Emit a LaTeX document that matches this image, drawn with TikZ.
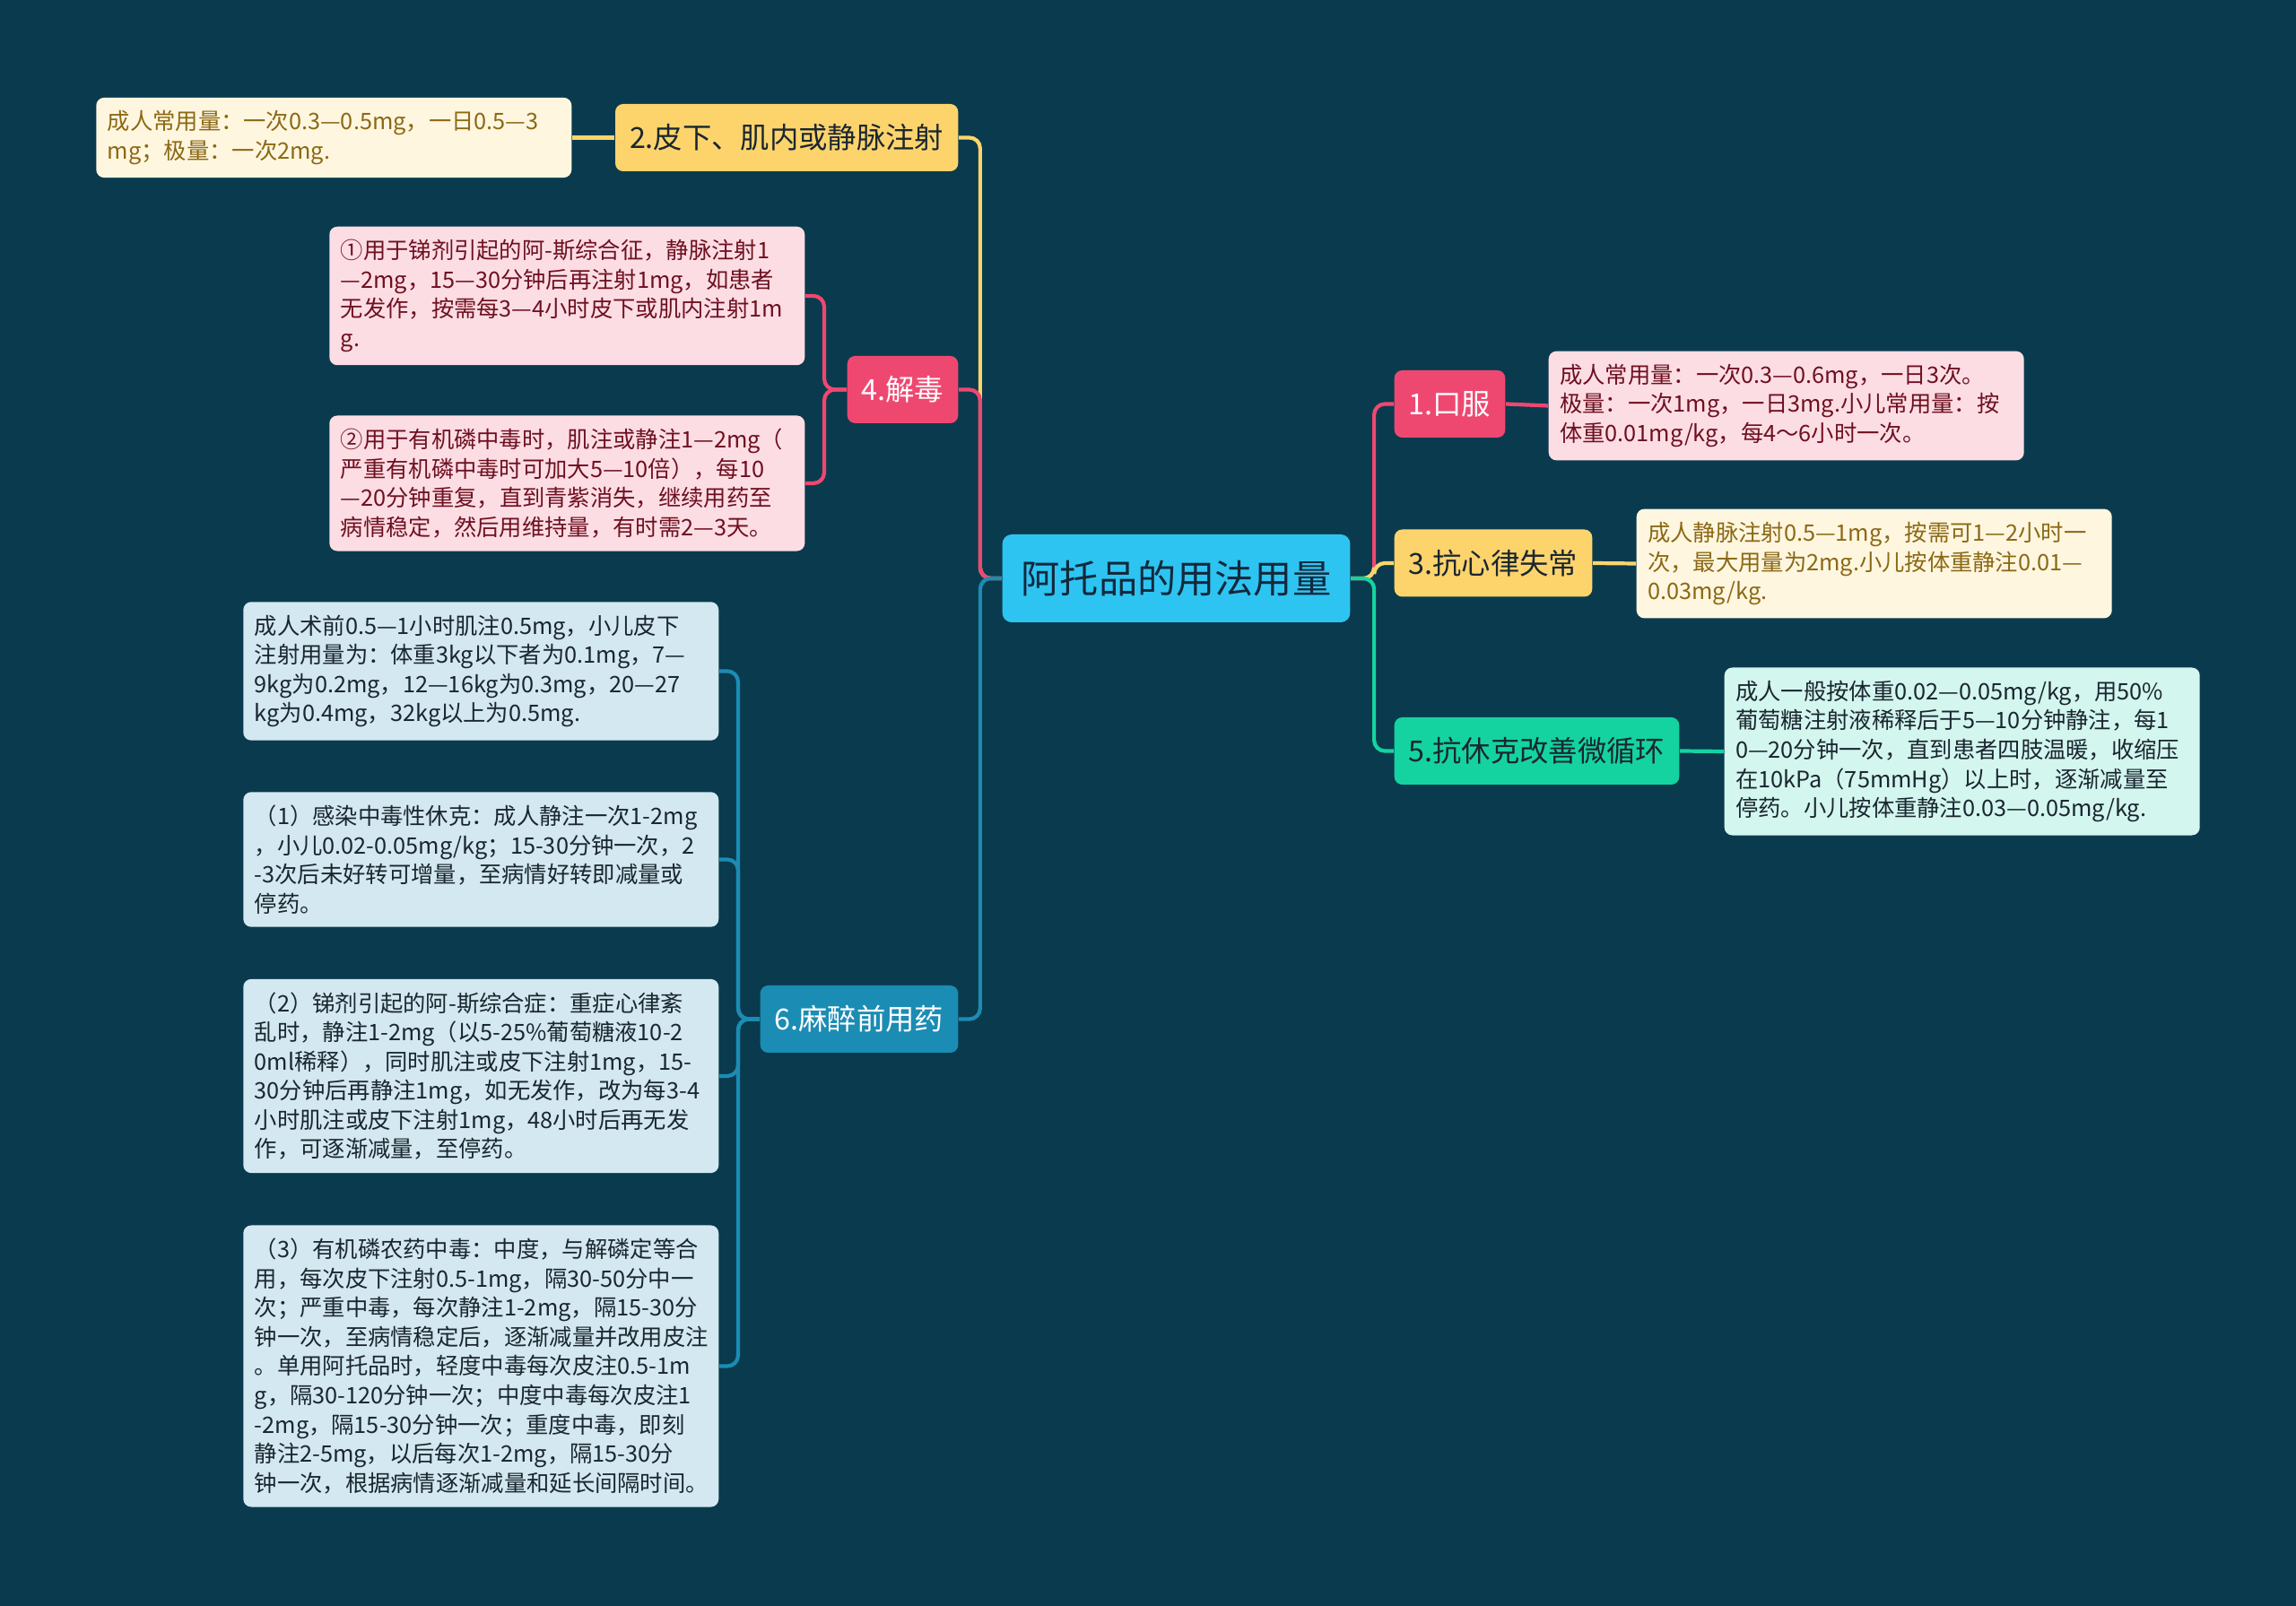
\documentclass[tikz,border=0pt]{standalone}
\usepackage{fontspec}
\setmainfont{Noto Sans CJK SC}
\usetikzlibrary{positioning}

\definecolor{bgcol}{HTML}{0A3A4D}
\definecolor{rootcol}{HTML}{2EC4F1}
\definecolor{roottext}{HTML}{13293D}
\definecolor{pinkcol}{HTML}{EE4871}
\definecolor{pinkleaf}{HTML}{FDDDE4}
\definecolor{pinktext}{HTML}{6E1020}
\definecolor{yellowcol}{HTML}{FDD46C}
\definecolor{yellowleaf}{HTML}{FFF6E0}
\definecolor{yellowtext}{HTML}{8B6914}
\definecolor{greencol}{HTML}{14D3A1}
\definecolor{greenleaf}{HTML}{D3F6EE}
\definecolor{bluecol}{HTML}{1B8CB4}
\definecolor{blueleaf}{HTML}{D3E8F0}
\definecolor{darktext}{HTML}{1A2630}

\exhyphenpenalty=10000
\hyphenpenalty=10000

\begin{document}
\begin{tikzpicture}[
        root/.style={rectangle, fill=rootcol, text=roottext, rounded corners=3pt, minimum height=0.98cm, inner xsep=0.21cm, font=\fontsize{12.3pt}{14pt}\selectfont},
        kind/.style={rectangle, rounded corners=2.5pt, minimum height=0.75cm, inner xsep=0.16cm, font=\fontsize{9.2pt}{11pt}\selectfont},
        dose/.style={rectangle, rounded corners=2.5pt, text width=5.05cm, inner xsep=0.125cm, inner ysep=0.145cm, align=left, font=\fontsize{7.2pt}{9.27pt}\selectfont},
        link/.style={line width=1.2pt, rounded corners=0.12cm}
    ]
        \fill[bgcol] (0,0) rectangle (25.6,-17.91);
        \useasboundingbox (0,0) rectangle (25.6,-17.91);

        \node[root] (root) at (13.115,-6.45) {阿托品的用法用量};

        % left side
        \node[kind, fill=yellowcol, text=darktext, anchor=east] (kind2) at (10.69,-1.535) {2.皮下、肌内或静脉注射};
        \node[kind, fill=pinkcol, text=white, anchor=east] (kind4) at (10.69,-4.345) {4.解毒};
        \node[kind, fill=bluecol, text=white, anchor=east] (kind6) at (10.69,-11.365) {6.麻醉前用药};

        \node[dose, fill=yellowleaf, text=yellowtext, anchor=east] (dose2) at (6.38,-1.535) {成人常用量：一次0.3—0.5mg，一日0.5—3\\mg；极量：一次2mg.};
        \node[dose, fill=pinkleaf, text=pinktext, anchor=east] (dose4a) at (8.98,-3.30) {①用于锑剂引起的阿-斯综合征，静脉注射1\\—2mg，15—30分钟后再注射1mg，如患者\\无发作，按需每3—4小时皮下或肌内注射1m\\g.};
        \node[dose, fill=pinkleaf, text=pinktext, anchor=east] (dose4b) at (8.98,-5.39) {②用于有机磷中毒时，肌注或静注1—2mg（\\严重有机磷中毒时可加大5—10倍），每10\\—20分钟重复，直到青紫消失，继续用药至\\病情稳定，然后用维持量，有时需2—3天。};
        \node[dose, fill=blueleaf, text=darktext, anchor=east] (dose6a) at (8.02,-7.485) {成人术前0.5—1小时肌注0.5mg，小儿皮下\\注射用量为：体重3kg以下者为0.1mg，7—\\9kg为0.2mg，12—16kg为0.3mg，20—27\\kg为0.4mg，32kg以上为0.5mg.};
        \node[dose, fill=blueleaf, text=darktext, anchor=east] (dose6b) at (8.02,-9.585) {（1）感染中毒性休克：成人静注一次1-2mg\\，小儿0.02-0.05mg/kg；15-30分钟一次，2\\-3次后未好转可增量，至病情好转即减量或\\停药。};
        \node[dose, fill=blueleaf, text=darktext, anchor=east] (dose6c) at (8.02,-12.00) {（2）锑剂引起的阿-斯综合症：重症心律紊\\乱时，静注1-2mg（以5-25\%葡萄糖液10-2\\0ml稀释），同时肌注或皮下注射1mg，15-\\30分钟后再静注1mg，如无发作，改为每3-4\\小时肌注或皮下注射1mg，48小时后再无发\\作，可逐渐减量，至停药。};
        \node[dose, fill=blueleaf, text=darktext, anchor=east] (dose6d) at (8.02,-15.235) {（3）有机磷农药中毒：中度，与解磷定等合\\用，每次皮下注射0.5-1mg，隔30-50分中一\\次；严重中毒，每次静注1-2mg，隔15-30分\\钟一次，至病情稳定后，逐渐减量并改用皮注\\。单用阿托品时，轻度中毒每次皮注0.5-1m\\g，隔30-120分钟一次；中度中毒每次皮注1\\-2mg，隔15-30分钟一次；重度中毒，即刻\\静注2-5mg，以后每次1-2mg，隔15-30分\\钟一次，根据病情逐渐减量和延长间隔时间。};

        % right side
        \node[kind, fill=pinkcol, text=white, anchor=west] (kind1) at (15.54,-4.505) {1.口服};
        \node[kind, fill=yellowcol, text=darktext, anchor=west] (kind3) at (15.54,-6.28) {3.抗心律失常};
        \node[kind, fill=greencol, text=darktext, anchor=west] (kind5) at (15.54,-8.375) {5.抗休克改善微循环};

        \node[dose, fill=pinkleaf, text=pinktext, anchor=west] (dose1) at (17.26,-4.525) {成人常用量：一次0.3—0.6mg，一日3次。\\极量：一次1mg，一日3mg.小儿常用量：按\\体重0.01mg/kg，每4～6小时一次。};
        \node[dose, fill=yellowleaf, text=yellowtext, anchor=west] (dose3) at (18.24,-6.285) {成人静脉注射0.5—1mg，按需可1—2小时一\\次，最大用量为2mg.小儿按体重静注0.01—\\0.03mg/kg.};
        \node[dose, fill=greenleaf, text=darktext, anchor=west] (dose5) at (19.22,-8.38) {成人一般按体重0.02—0.05mg/kg，用50\%\\葡萄糖注射液稀释后于5—10分钟静注，每1\\0—20分钟一次，直到患者四肢温暖，收缩压\\在10kPa（75mmHg）以上时，逐渐减量至\\停药。小儿按体重静注0.03—0.05mg/kg.};

        % root to branches
        \draw[link, yellowcol] (root.west) -- ++(-0.24,0) |- (kind2.east);
        \draw[link, pinkcol] (root.west) -- ++(-0.24,0) |- (kind4.east);
        \draw[link, bluecol] (root.west) -- ++(-0.24,0) |- (kind6.east);
        \draw[link, pinkcol] (root.east) -- ++(0.26,0) |- (kind1.west);
        \draw[link, yellowcol] (root.east) -- ++(0.26,0) |- (kind3.west);
        \draw[link, greencol] (root.east) -- ++(0.26,0) |- (kind5.west);

        % branches to leaves
        \draw[link, yellowcol] (kind2.west) -- (dose2.east);
        \draw[link, pinkcol] (kind4.west) -- ++(-0.25,0) |- (dose4a.east);
        \draw[link, pinkcol] (kind4.west) -- ++(-0.25,0) |- (dose4b.east);
        \draw[link, bluecol] (kind6.west) -- ++(-0.24,0) |- (dose6a.east);
        \draw[link, bluecol] (kind6.west) -- ++(-0.24,0) |- (dose6b.east);
        \draw[link, bluecol] (kind6.west) -- ++(-0.24,0) |- (dose6c.east);
        \draw[link, bluecol] (kind6.west) -- ++(-0.24,0) |- (dose6d.east);
        \draw[link, pinkcol] (kind1.east) -- (dose1.west);
        \draw[link, yellowcol] (kind3.east) -- (dose3.west);
        \draw[link, greencol] (kind5.east) -- (dose5.west);
\end{tikzpicture}
\end{document}
